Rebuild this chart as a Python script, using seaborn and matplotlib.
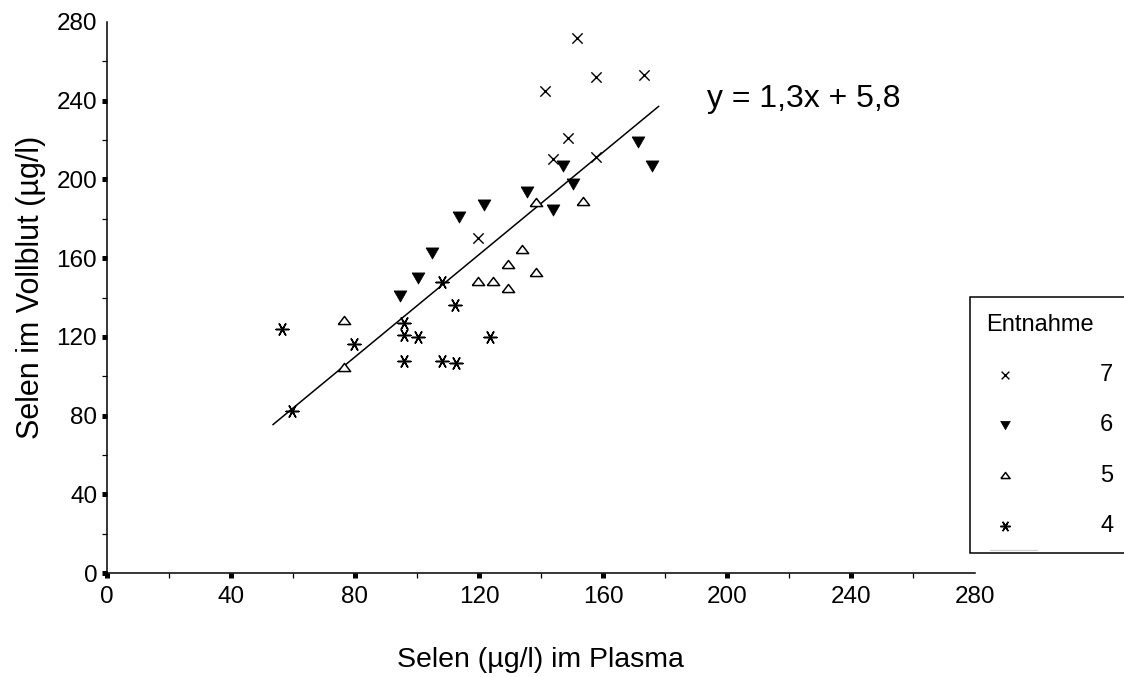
import numpy as np
import pandas as pd
import matplotlib
matplotlib.use("Agg")
import matplotlib.pyplot as plt
from matplotlib.lines import Line2D
from matplotlib.ticker import MultipleLocator
import seaborn as sns

# Selen im Plasma (x) und im Vollblut (y), µg/l, je Entnahme
plasma_7 = [151.6, 157.7, 173.2, 141.3, 148.7, 143.9, 157.7, 119.7]
vollblut_7 = [272.1, 252.3, 253.3, 244.7, 221.3, 210.2, 211.2, 170.1]

plasma_6 = [171.3, 175.8, 147.1, 150.3, 135.5, 143.9, 121.6, 113.5, 104.8, 100.3, 94.5]
vollblut_6 = [218.8, 206.6, 206.6, 197.5, 193.4, 184.3, 186.8, 180.7, 162.4, 149.7, 140.6]

plasma_5 = [138.4, 153.5, 133.9, 129.4, 138.4, 119.7, 124.5, 129.4, 76.5, 76.5]
vollblut_5 = [188.3, 188.8, 164.5, 156.9, 152.8, 148.2, 148.2, 144.7, 128.4, 104.6]

plasma_4 = [56.5, 79.7, 59.7, 108.1, 112.3, 95.8, 95.8, 100.3, 123.5, 95.8, 108.1, 112.6]
vollblut_4 = [123.9, 116.2, 82.2, 147.7, 136.0, 126.9, 120.8, 119.8, 119.8, 107.6, 107.6, 106.6]

entnahmen = ["7", "6", "5", "4"]

# Lineare Trendlinie
SLOPE = 1.3
INTERCEPT = 5.8
TREND_X = [53.5, 178.0]

X_TICKS = [0, 40, 80, 120, 160, 200, 240, 280]
Y_TICKS = [0, 40, 80, 120, 160, 200, 240, 280]

df = pd.concat([
    pd.DataFrame({"plasma": plasma_7, "vollblut": vollblut_7, "entnahme": "7"}),
    pd.DataFrame({"plasma": plasma_6, "vollblut": vollblut_6, "entnahme": "6"}),
    pd.DataFrame({"plasma": plasma_5, "vollblut": vollblut_5, "entnahme": "5"}),
    pd.DataFrame({"plasma": plasma_4, "vollblut": vollblut_4, "entnahme": "4"}),
], ignore_index=True)

sns.set_theme(style="white")
plt.rcParams["font.family"] = ["Liberation Sans", "DejaVu Sans"]
plt.rcParams["text.color"] = "black"
plt.rcParams["axes.labelcolor"] = "black"
plt.rcParams["axes.edgecolor"] = "black"
plt.rcParams["xtick.color"] = "black"
plt.rcParams["ytick.color"] = "black"
plt.rcParams["xtick.labelcolor"] = "black"
plt.rcParams["ytick.labelcolor"] = "black"
plt.rcParams["legend.labelcolor"] = "black"

W, H = 1124, 677
fig = plt.figure(figsize=(W / 100, H / 100), dpi=100)
ax = fig.add_axes([107 / W, 1 - 573 / H, 868 / W, 551 / H])

tri_down = [(-1.0, 0.87), (1.0, 0.87), (0.0, -0.87), (-1.0, 0.87)]
tri_up = [(-1.0, -0.66), (1.0, -0.66), (0.0, 0.66), (-1.0, -0.66)]

styles = {
    "7": dict(marker="x", s=55, linewidth=1.0, color="black"),
    "6": dict(marker=tri_down, s=85, color="black", edgecolor="black", linewidth=0.5),
    "5": dict(marker=tri_up, s=78, color="black", facecolor="white",
              edgecolor="black", linewidth=1.1),
    "4": dict(marker=(6, 2, 90), s=85, linewidth=1.1, color="black"),
}

for e in entnahmen:
    sub = df[df["entnahme"] == e]
    sns.scatterplot(data=sub, x="plasma", y="vollblut", ax=ax, label=e,
                    legend=False, zorder=3, **styles[e])

# Trendlinie aus Steigung und Achsenabschnitt
trend_x = np.array(TREND_X)
trend_y = SLOPE * trend_x + INTERCEPT
sns.lineplot(x=trend_x, y=trend_y, ax=ax, color="black", linewidth=1.1,
             legend=False, zorder=2)

eq = f"y = {SLOPE:.1f}x + {INTERCEPT:.1f}".replace(".", ",")
ax.text(193.5, 236.8, eq, fontsize=23, ha="left", va="baseline", color="black")

ax.set_xlim(0, 280)
ax.set_ylim(0, 280)
ax.set_xticks(X_TICKS)
ax.set_yticks(Y_TICKS)
ax.set_xticklabels([str(t) for t in X_TICKS])
ax.set_yticklabels([str(t) for t in Y_TICKS])
ax.xaxis.set_minor_locator(MultipleLocator(20))
ax.yaxis.set_minor_locator(MultipleLocator(20))
ax.tick_params(which="major", direction="out", length=3.6, width=3.6,
               labelsize=17.5, bottom=True, left=True, colors="black")
ax.tick_params(axis="x", which="major", pad=6)
ax.tick_params(axis="y", which="major", pad=3.5)
ax.tick_params(which="minor", direction="out", length=3.8, width=0.9,
               bottom=True, left=True, colors="black")
ax.xaxis.get_major_ticks()[-1].tick1line.set_visible(False)
ax.yaxis.get_major_ticks()[-1].tick1line.set_visible(False)

sns.despine(ax=ax)
for side in ("left", "bottom"):
    ax.spines[side].set_linewidth(1.1)
    ax.spines[side].set_color("black")

ax.set_xlabel("Selen (µg/l) im Plasma", fontsize=20.5, color="black")
ax.set_ylabel("Selen im Vollblut (µg/l)", fontsize=22, color="black")
ax.xaxis.set_label_coords(0.4988, -0.134)
ax.yaxis.set_label_coords(-0.0705, 0.519)

handles, labels = ax.get_legend_handles_labels()
order = [labels.index(e) for e in entnahmen]
leg = ax.legend([handles[i] for i in order], [labels[i] for i in order],
                title="Entnahme", loc="upper left", mode="expand",
                bbox_to_anchor=(970 / W, 0.0, 0.25, 1 - 297 / H),
                bbox_transform=fig.transFigure, alignment="left",
                frameon=True, fancybox=False, shadow=False, framealpha=1,
                edgecolor="black", fontsize=17, title_fontsize=17,
                borderpad=0.7, labelspacing=1.2, handlelength=1.57,
                handletextpad=3.24, markerscale=0.75, scatterpoints=1,
                borderaxespad=0, labelcolor="black")
leg.get_title().set_color("black")
leg.get_frame().set_linewidth(1.1)
leg.get_frame().set_facecolor("white")

fig.add_artist(Line2D([990 / W, 1037 / W], [1 - 550 / H, 1 - 550 / H],
                      color="#cfcfcf", linewidth=0.9))

fig.savefig("out.png", dpi=100)
